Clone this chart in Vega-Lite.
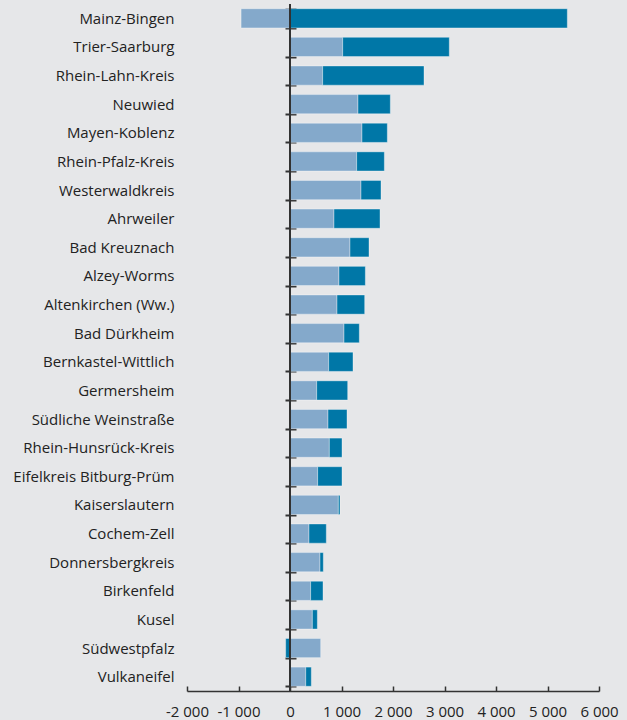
{
  "$schema": "https://vega.github.io/schema/vega-lite/v6.json",
  "width": 412,
  "height": 687,
  "autosize": {"type": "none"},
  "padding": {"left": 187, "top": 4, "right": 28, "bottom": 29},
  "background": "#e6e7e9",
  "config": {
    "view": {"stroke": null},
    "font": "Open Sans",
    "axis": {"labelFont": "Open Sans", "labelFontSize": 15, "labelColor": "#222222", "grid": false, "domainColor": "#333333", "tickColor": "#333333"}
  },
  "data": {
    "values": [
      {"region": "Mainz-Bingen", "serie": "A", "k": 1, "value": -950},
      {"region": "Mainz-Bingen", "serie": "B", "k": 2, "value": 5385},
      {"region": "Trier-Saarburg", "serie": "A", "k": 1, "value": 1023},
      {"region": "Trier-Saarburg", "serie": "B", "k": 2, "value": 2070},
      {"region": "Rhein-Lahn-Kreis", "serie": "A", "k": 1, "value": 634},
      {"region": "Rhein-Lahn-Kreis", "serie": "B", "k": 2, "value": 1968},
      {"region": "Neuwied", "serie": "A", "k": 1, "value": 1320},
      {"region": "Neuwied", "serie": "B", "k": 2, "value": 628},
      {"region": "Mayen-Koblenz", "serie": "A", "k": 1, "value": 1398},
      {"region": "Mayen-Koblenz", "serie": "B", "k": 2, "value": 492},
      {"region": "Rhein-Pfalz-Kreis", "serie": "A", "k": 1, "value": 1294},
      {"region": "Rhein-Pfalz-Kreis", "serie": "B", "k": 2, "value": 538},
      {"region": "Westerwaldkreis", "serie": "A", "k": 1, "value": 1379},
      {"region": "Westerwaldkreis", "serie": "B", "k": 2, "value": 388},
      {"region": "Ahrweiler", "serie": "A", "k": 1, "value": 854},
      {"region": "Ahrweiler", "serie": "B", "k": 2, "value": 894},
      {"region": "Bad Kreuznach", "serie": "A", "k": 1, "value": 1165},
      {"region": "Bad Kreuznach", "serie": "B", "k": 2, "value": 369},
      {"region": "Alzey-Worms", "serie": "A", "k": 1, "value": 951},
      {"region": "Alzey-Worms", "serie": "B", "k": 2, "value": 512},
      {"region": "Altenkirchen (Ww.)", "serie": "A", "k": 1, "value": 913},
      {"region": "Altenkirchen (Ww.)", "serie": "B", "k": 2, "value": 537},
      {"region": "Bad Dürkheim", "serie": "A", "k": 1, "value": 1049},
      {"region": "Bad Dürkheim", "serie": "B", "k": 2, "value": 297},
      {"region": "Bernkastel-Wittlich", "serie": "A", "k": 1, "value": 751},
      {"region": "Bernkastel-Wittlich", "serie": "B", "k": 2, "value": 472},
      {"region": "Germersheim", "serie": "A", "k": 1, "value": 518},
      {"region": "Germersheim", "serie": "B", "k": 2, "value": 602},
      {"region": "Südliche Weinstraße", "serie": "A", "k": 1, "value": 738},
      {"region": "Südliche Weinstraße", "serie": "B", "k": 2, "value": 369},
      {"region": "Rhein-Hunsrück-Kreis", "serie": "A", "k": 1, "value": 764},
      {"region": "Rhein-Hunsrück-Kreis", "serie": "B", "k": 2, "value": 246},
      {"region": "Eifelkreis Bitburg-Prüm", "serie": "A", "k": 1, "value": 537},
      {"region": "Eifelkreis Bitburg-Prüm", "serie": "B", "k": 2, "value": 473},
      {"region": "Kaiserslautern", "serie": "A", "k": 1, "value": 939},
      {"region": "Kaiserslautern", "serie": "B", "k": 2, "value": 32},
      {"region": "Cochem-Zell", "serie": "A", "k": 1, "value": 369},
      {"region": "Cochem-Zell", "serie": "B", "k": 2, "value": 336},
      {"region": "Donnersbergkreis", "serie": "A", "k": 1, "value": 583},
      {"region": "Donnersbergkreis", "serie": "B", "k": 2, "value": 64},
      {"region": "Birkenfeld", "serie": "A", "k": 1, "value": 401},
      {"region": "Birkenfeld", "serie": "B", "k": 2, "value": 240},
      {"region": "Kusel", "serie": "A", "k": 1, "value": 434},
      {"region": "Kusel", "serie": "B", "k": 2, "value": 97},
      {"region": "Südwestpfalz", "serie": "A", "k": 1, "value": 596},
      {"region": "Südwestpfalz", "serie": "B", "k": 2, "value": -84},
      {"region": "Vulkaneifel", "serie": "A", "k": 1, "value": 306},
      {"region": "Vulkaneifel", "serie": "B", "k": 2, "value": 108}
    ]
  },
  "layer": [
    {
      "mark": {"type": "bar", "stroke": "#ffffff", "strokeOpacity": 0.35, "strokeWidth": 1},
      "encoding": {
        "y": {
          "field": "region", "type": "nominal", "sort": null, "title": null,
          "scale": {"paddingInner": 0.33, "paddingOuter": 0.165},
          "axis": {"orient": "left", "offset": -109, "domain": false, "ticks": true, "tickBand": "extent", "tickSize": 11, "tickWidth": 2, "labelPadding": 111, "labelLimit": 300}
        },
        "x": {
          "field": "value", "type": "quantitative", "stack": "zero", "title": null,
          "scale": {"domain": [-2000, 6000], "nice": false, "zero": false},
          "axis": {
            "values": [-2000, -1000, 0, 1000, 2000, 3000, 4000, 5000, 6000],
            "labelOverlap": false, "labelFlush": false, "ticks": true,
            "tickSize": -5, "labelPadding": 18, "domainWidth": 1.3, "tickWidth": 1.5,
            "labelExpr": "(datum.value < 0 ? '-' : '') + replace(format(abs(datum.value), ','), ',', ' ')"
          }
        },
        "color": {
          "field": "serie", "type": "nominal", "legend": null,
          "scale": {"domain": ["A", "B"], "range": ["#84a9cb", "#0077a7"]}
        },
        "order": {"field": "k", "type": "quantitative"}
      }
    },
    {
      "mark": {"type": "rule", "color": "#333333", "strokeWidth": 1.5},
      "encoding": {"x": {"datum": 0, "type": "quantitative"}}
    }
  ]
}
